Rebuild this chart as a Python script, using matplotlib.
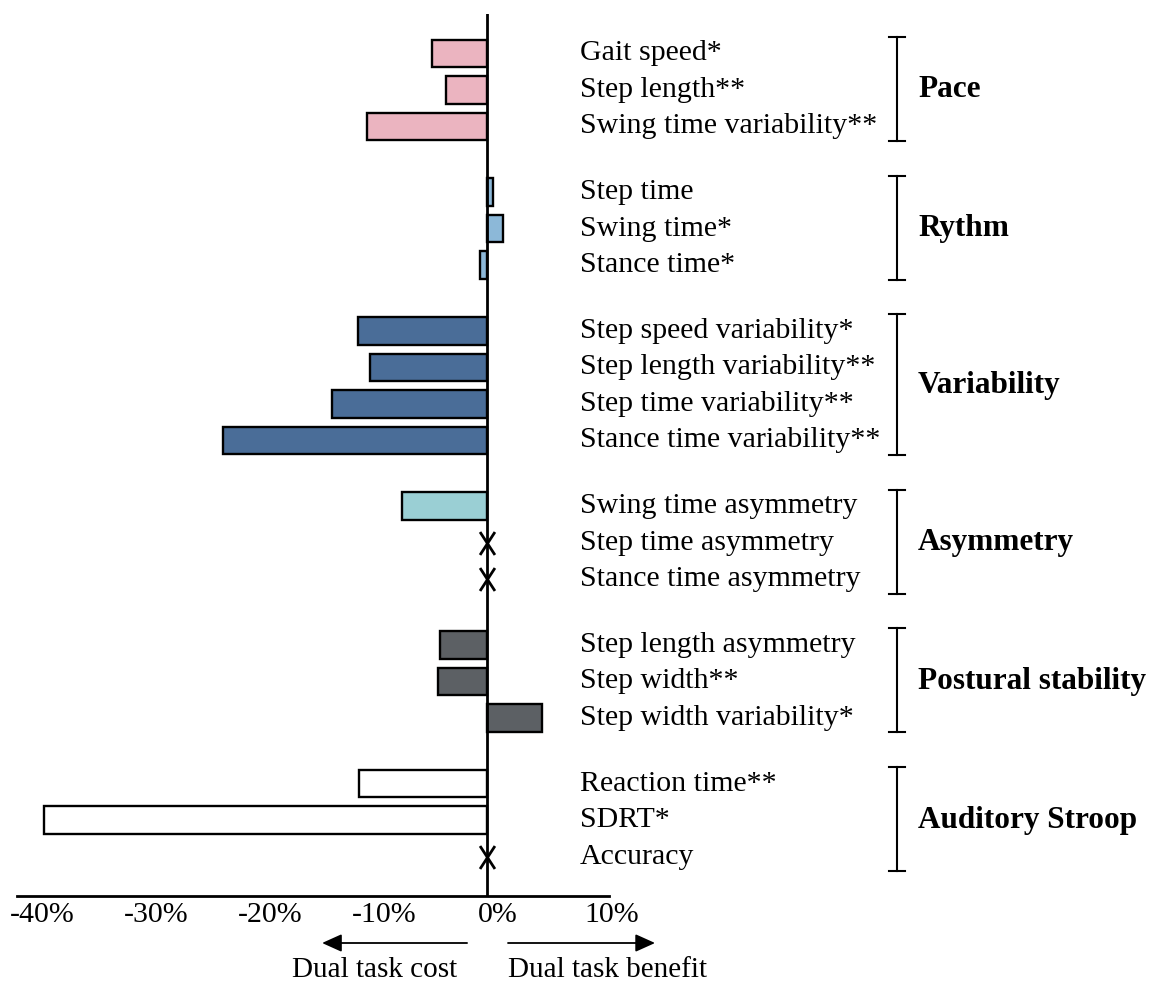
import matplotlib.pyplot as plt
from matplotlib.path import Path
from matplotlib.transforms import ScaledTranslation

plt.rcParams["font.family"] = ["Liberation Serif", "DejaVu Serif"]

groups = ["Pace", "Rythm", "Variability", "Asymmetry", "Postural stability", "Auditory Stroop"]
measures = [
    ["Gait speed*", "Step length**", "Swing time variability**"],
    ["Step time", "Swing time*", "Stance time*"],
    ["Step speed variability*", "Step length variability**",
     "Step time variability**", "Stance time variability**"],
    ["Swing time asymmetry", "Step time asymmetry", "Stance time asymmetry"],
    ["Step length asymmetry", "Step width**", "Step width variability*"],
    ["Reaction time**", "SDRT*", "Accuracy"],
]
# dual task effect in % (None = not available, drawn as an X on the zero line)
effects = [
    [-4.8, -3.6, -10.5],
    [0.5, 1.4, -0.6],
    [-11.3, -10.3, -13.6, -23.2],
    [-7.5, None, None],
    [-4.1, -4.3, 4.8],
    [-11.2, -38.9, None],
]
group_colors = ["#ebb4c0", "#8cb8d8", "#4a6d98", "#9acfd4", "#5c6064", "#ffffff"]
ticks = [-40, -30, -20, -10, 0, 10]

FS = 21.5
GAP = 0.8  # extra space between groups, in rows

fig = plt.figure(figsize=(11.52, 9.81), dpi=100)
ax = fig.add_axes([17 / 1152, 1 - 896 / 981, (609 - 17) / 1152, (896 - 14) / 981])
ax.set_xlim(-41.23, 10.70)
ax.set_ylim(23.08, -1.08)

xmark = Path([(-0.65, -1), (0.65, 1), (-0.65, 1), (0.65, -1)],
             [Path.MOVETO, Path.LINETO, Path.MOVETO, Path.LINETO])

row = 0
for g, (gname, names, vals) in enumerate(zip(groups, measures, effects)):
    pos = [row + i + g * GAP for i in range(len(names))]
    for p, name, v in zip(pos, names, vals):
        if v is None:
            ax.plot(0, p, marker=xmark, markersize=16.5, mew=2.0, color="black",
                    linestyle="none", zorder=5, clip_on=False)
        else:
            ax.barh(p, v, height=0.75, color=group_colors[g], edgecolor="black",
                    linewidth=1.7, zorder=2)
        ax.text(8.16, p, name, ha="left", va="center", fontsize=FS, clip_on=False)

    # bracket on the right
    top, bot = pos[0] - 0.45, pos[-1] + 0.4
    bx = 35.96
    ax.plot([bx, bx], [top, bot], color="black", lw=1.5, clip_on=False)
    for yy in (top, bot):
        ax.plot([bx - 0.7, bx + 0.7], [yy, yy], color="black", lw=1.5, clip_on=False)
    ax.text(37.8, (pos[0] + pos[-1]) / 2, gname, ha="left", va="center",
            fontsize=22.5, fontweight="bold", clip_on=False)
    row += len(names)

ax.axvline(0, color="black", lw=2.0, zorder=4)

for s in ["top", "right", "left"]:
    ax.spines[s].set_visible(False)
ax.spines["bottom"].set_linewidth(2.0)
ax.set_yticks([])
ax.set_xticks(ticks)
ax.set_xticklabels([f"{t}%" for t in ticks])
ax.tick_params(axis="x", length=0, pad=4, labelsize=FS)
shift = ScaledTranslation(11 / 100, 0, fig.dpi_scale_trans)
for lab in ax.get_xticklabels():
    lab.set_transform(lab.get_transform() + shift)

# cost / benefit arrows under the axis
coords = ("data", "figure pixels")
arrow = dict(arrowstyle="-|>,head_length=0.6,head_width=0.27", color="black",
             lw=1.3, mutation_scale=20, shrinkA=0, shrinkB=0)
ax.annotate("", xy=(-14.47, 38), xytext=(-1.75, 38), xycoords=coords,
            textcoords=coords, arrowprops=arrow)
ax.annotate("", xy=(14.74, 38), xytext=(1.84, 38), xycoords=coords,
            textcoords=coords, arrowprops=arrow)
ax.annotate("Dual task cost", xy=(-2.6, 11), xycoords=coords, ha="right",
            va="center", fontsize=21)
ax.annotate("Dual task benefit", xy=(1.84, 11), xycoords=coords, ha="left",
            va="center", fontsize=21)

fig.savefig("out.png", dpi=100, facecolor="white")
